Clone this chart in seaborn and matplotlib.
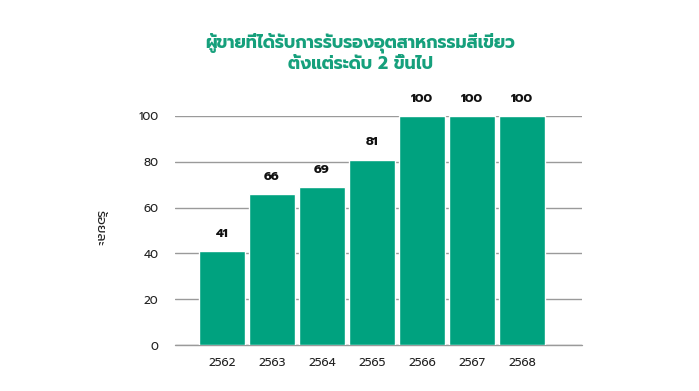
import matplotlib
matplotlib.use("Agg")
import matplotlib.pyplot as plt
import seaborn as sns
import pandas as pd

years = ["2562", "2563", "2564", "2565", "2566", "2567", "2568"]
values = [41, 66, 69, 81, 100, 100, 100]
yticks = [0, 20, 40, 60, 80, 100]
title = "ผู้ขายที่ได้รับการรับรองอุตสาหกรรมสีเขียว\nตั้งแต่ระดับ 2 ขึ้นไป"
ylabel = "ร้อยละ"

sns.set_theme(style="white")
plt.rcParams['font.family'] = ['Prompt', 'DejaVu Sans']

df = pd.DataFrame({"year": years, "value": values})
fig = plt.figure(figsize=(6.99, 3.91), dpi=100)
ax = fig.add_axes([175/699, 1-345/391, (582-175)/699, (345-116)/391])
sns.barplot(data=df, x="year", y="value", color="#00A27F", saturation=1,
            width=0.92, ax=ax, zorder=3)
ax.set_xlim(-0.94, 7.2)
ax.set_ylim(0, 100)
ax.set_yticks(yticks)
ax.yaxis.grid(True, color="#9a9a9a", linewidth=1)
ax.axhline(0, color="#9a9a9a", linewidth=1, clip_on=False, zorder=2)
ax.set_axisbelow(True)
for s in ax.spines.values():
    s.set_visible(False)
ax.tick_params(axis='both', length=0, labelsize=8.5, colors="#222222")
ax.tick_params(axis='y', pad=12)
ax.tick_params(axis='x', pad=9)
ax.set_xlabel("")
ax.set_ylabel("")
for i, v in enumerate(values):
    ax.annotate(str(v), (i, v), xytext=(0, 8), textcoords="offset points",
                ha="center", va="bottom", fontsize=9, fontweight="bold",
                color="#111111", annotation_clip=False)
fig.text(360/699, 1-53/391, title, ha="center", va="center", fontsize=12.5,
         fontweight="bold", color="#16A07C", linespacing=1.2)
fig.text(100/699, 1-228/391, ylabel, ha="center", va="center", rotation=-90,
         fontsize=9.5, color="#222222")
fig.savefig("out.png", dpi=100)
